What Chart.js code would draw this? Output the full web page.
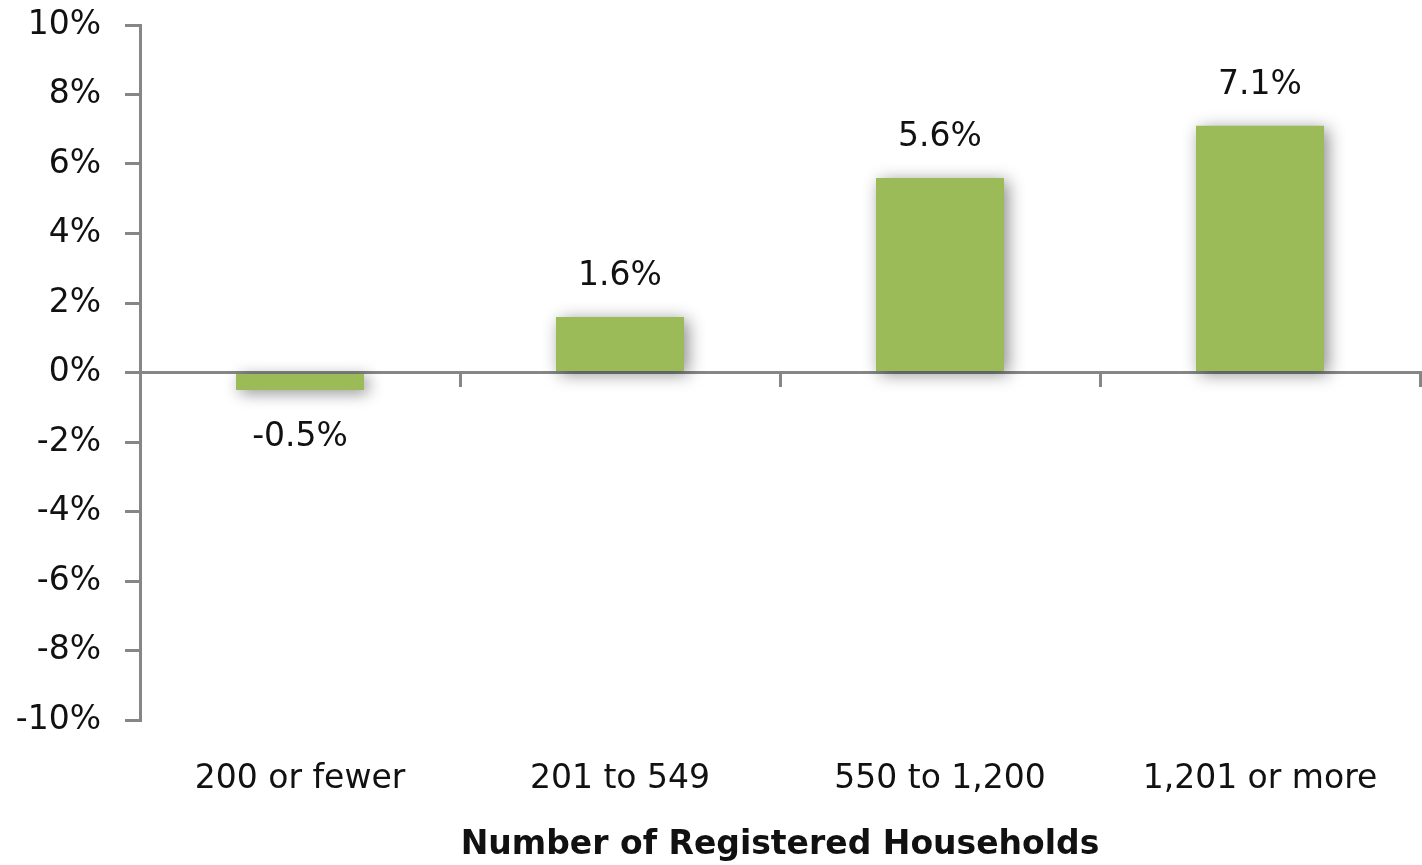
<!DOCTYPE html>
<html>
<head>
<meta charset="utf-8">
<script src="https://cdn.jsdelivr.net/npm/chart.js@4.4.0/dist/chart.umd.min.js"></script>
<style>
  html, body { margin: 0; padding: 0; background: #fff; }
  #wrap { width: 1422px; height: 865px; position: relative; }
</style>
</head>
<body>
<div id="wrap"><canvas id="growthChart"></canvas></div>
<script>
// household size groups and change values (%)
const categories = ['200 or fewer', '201 to 549', '550 to 1,200', '1,201 or more'];
const changeValues = [-0.5, 1.6, 5.6, 7.1];
const axisTitle = 'Number of Registered Households';
const yMin = -10;
const yMax = 10;
const yStep = 2;

const FONT = '"DejaVu Sans", Tahoma, sans-serif';
const AXIS_GRAY = '#868686';

// soft drop shadow behind the bars, like the office chart
const barShadow = {
    id: 'barShadow',
    beforeDatasetsDraw(chart) {
        const ctx = chart.ctx;
        ctx.save();
        ctx.shadowColor = 'rgba(0, 0, 0, 0.45)';
        ctx.shadowBlur = 16;
        ctx.shadowOffsetX = 4;
        ctx.shadowOffsetY = 3;
    },
    afterDatasetsDraw(chart) {
        chart.ctx.restore();
    }
};

// value labels above positive bars, below negative ones
const valueLabels = {
    id: 'valueLabels',
    afterDatasetsDraw(chart) {
        const ctx = chart.ctx;
        const meta = chart.getDatasetMeta(0);
        ctx.save();
        ctx.font = '33px ' + FONT;
        ctx.fillStyle = '#111';
        ctx.textAlign = 'center';
        ctx.textBaseline = 'middle';
        meta.data.forEach((bar, i) => {
            const v = changeValues[i];
            const y = v >= 0 ? bar.y - 40 : bar.y + 48;
            ctx.fillText(v.toFixed(1) + '%', bar.x, y);
        });
        ctx.restore();
    }
};

const ctx = document.getElementById('growthChart');
new Chart(ctx, {
    type: 'bar',
    data: {
        labels: categories,
        datasets: [{
            data: changeValues,
            backgroundColor: '#9BBB59',
            borderWidth: 0,
            categoryPercentage: 1.0,
            barPercentage: 0.4
        }]
    },
    options: {
        responsive: true,
        maintainAspectRatio: false,
        animation: false,
        layout: { padding: { top: 25, right: 2, left: 0, bottom: 0 } },
        plugins: {
            legend: { display: false },
            tooltip: { enabled: false }
        },
        scales: {
            x: {
                type: 'category',
                grid: { display: false },
                border: { display: false },
                ticks: {
                    color: '#111',
                    font: { family: FONT, size: 33 },
                    padding: 32,
                    maxRotation: 0
                },
                title: {
                    display: true,
                    text: axisTitle,
                    color: '#111',
                    font: { family: FONT, size: 33, weight: 'bold' },
                    padding: { top: 12, bottom: 0 }
                },
                afterFit(scale) { scale.height = 145; }
            },
            xZero: {
                type: 'category',
                axis: 'x',
                position: { y: 0 },
                offset: true,
                grid: {
                    offset: true,
                    drawOnChartArea: false,
                    drawTicks: true,
                    tickLength: 13,
                    color: AXIS_GRAY,
                    lineWidth: 3
                },
                border: { display: true, color: AXIS_GRAY, width: 3 },
                ticks: { display: false },
                afterFit(scale) { scale.height = 0; }
            },
            y: {
                min: yMin,
                max: yMax,
                grid: {
                    drawOnChartArea: false,
                    tickLength: 15,
                    color: AXIS_GRAY,
                    lineWidth: 3
                },
                border: { color: AXIS_GRAY, width: 3 },
                ticks: {
                    stepSize: yStep,
                    color: '#111',
                    padding: 24,
                    font: { family: FONT, size: 33 },
                    callback: (v) => v + '%'
                },
                afterFit(scale) {
                    scale.width = 140;
                    scale.paddingTop = 0;
                    scale.paddingBottom = 0;
                }
            }
        }
    },
    plugins: [barShadow, valueLabels]
});
</script>
</body>
</html>
